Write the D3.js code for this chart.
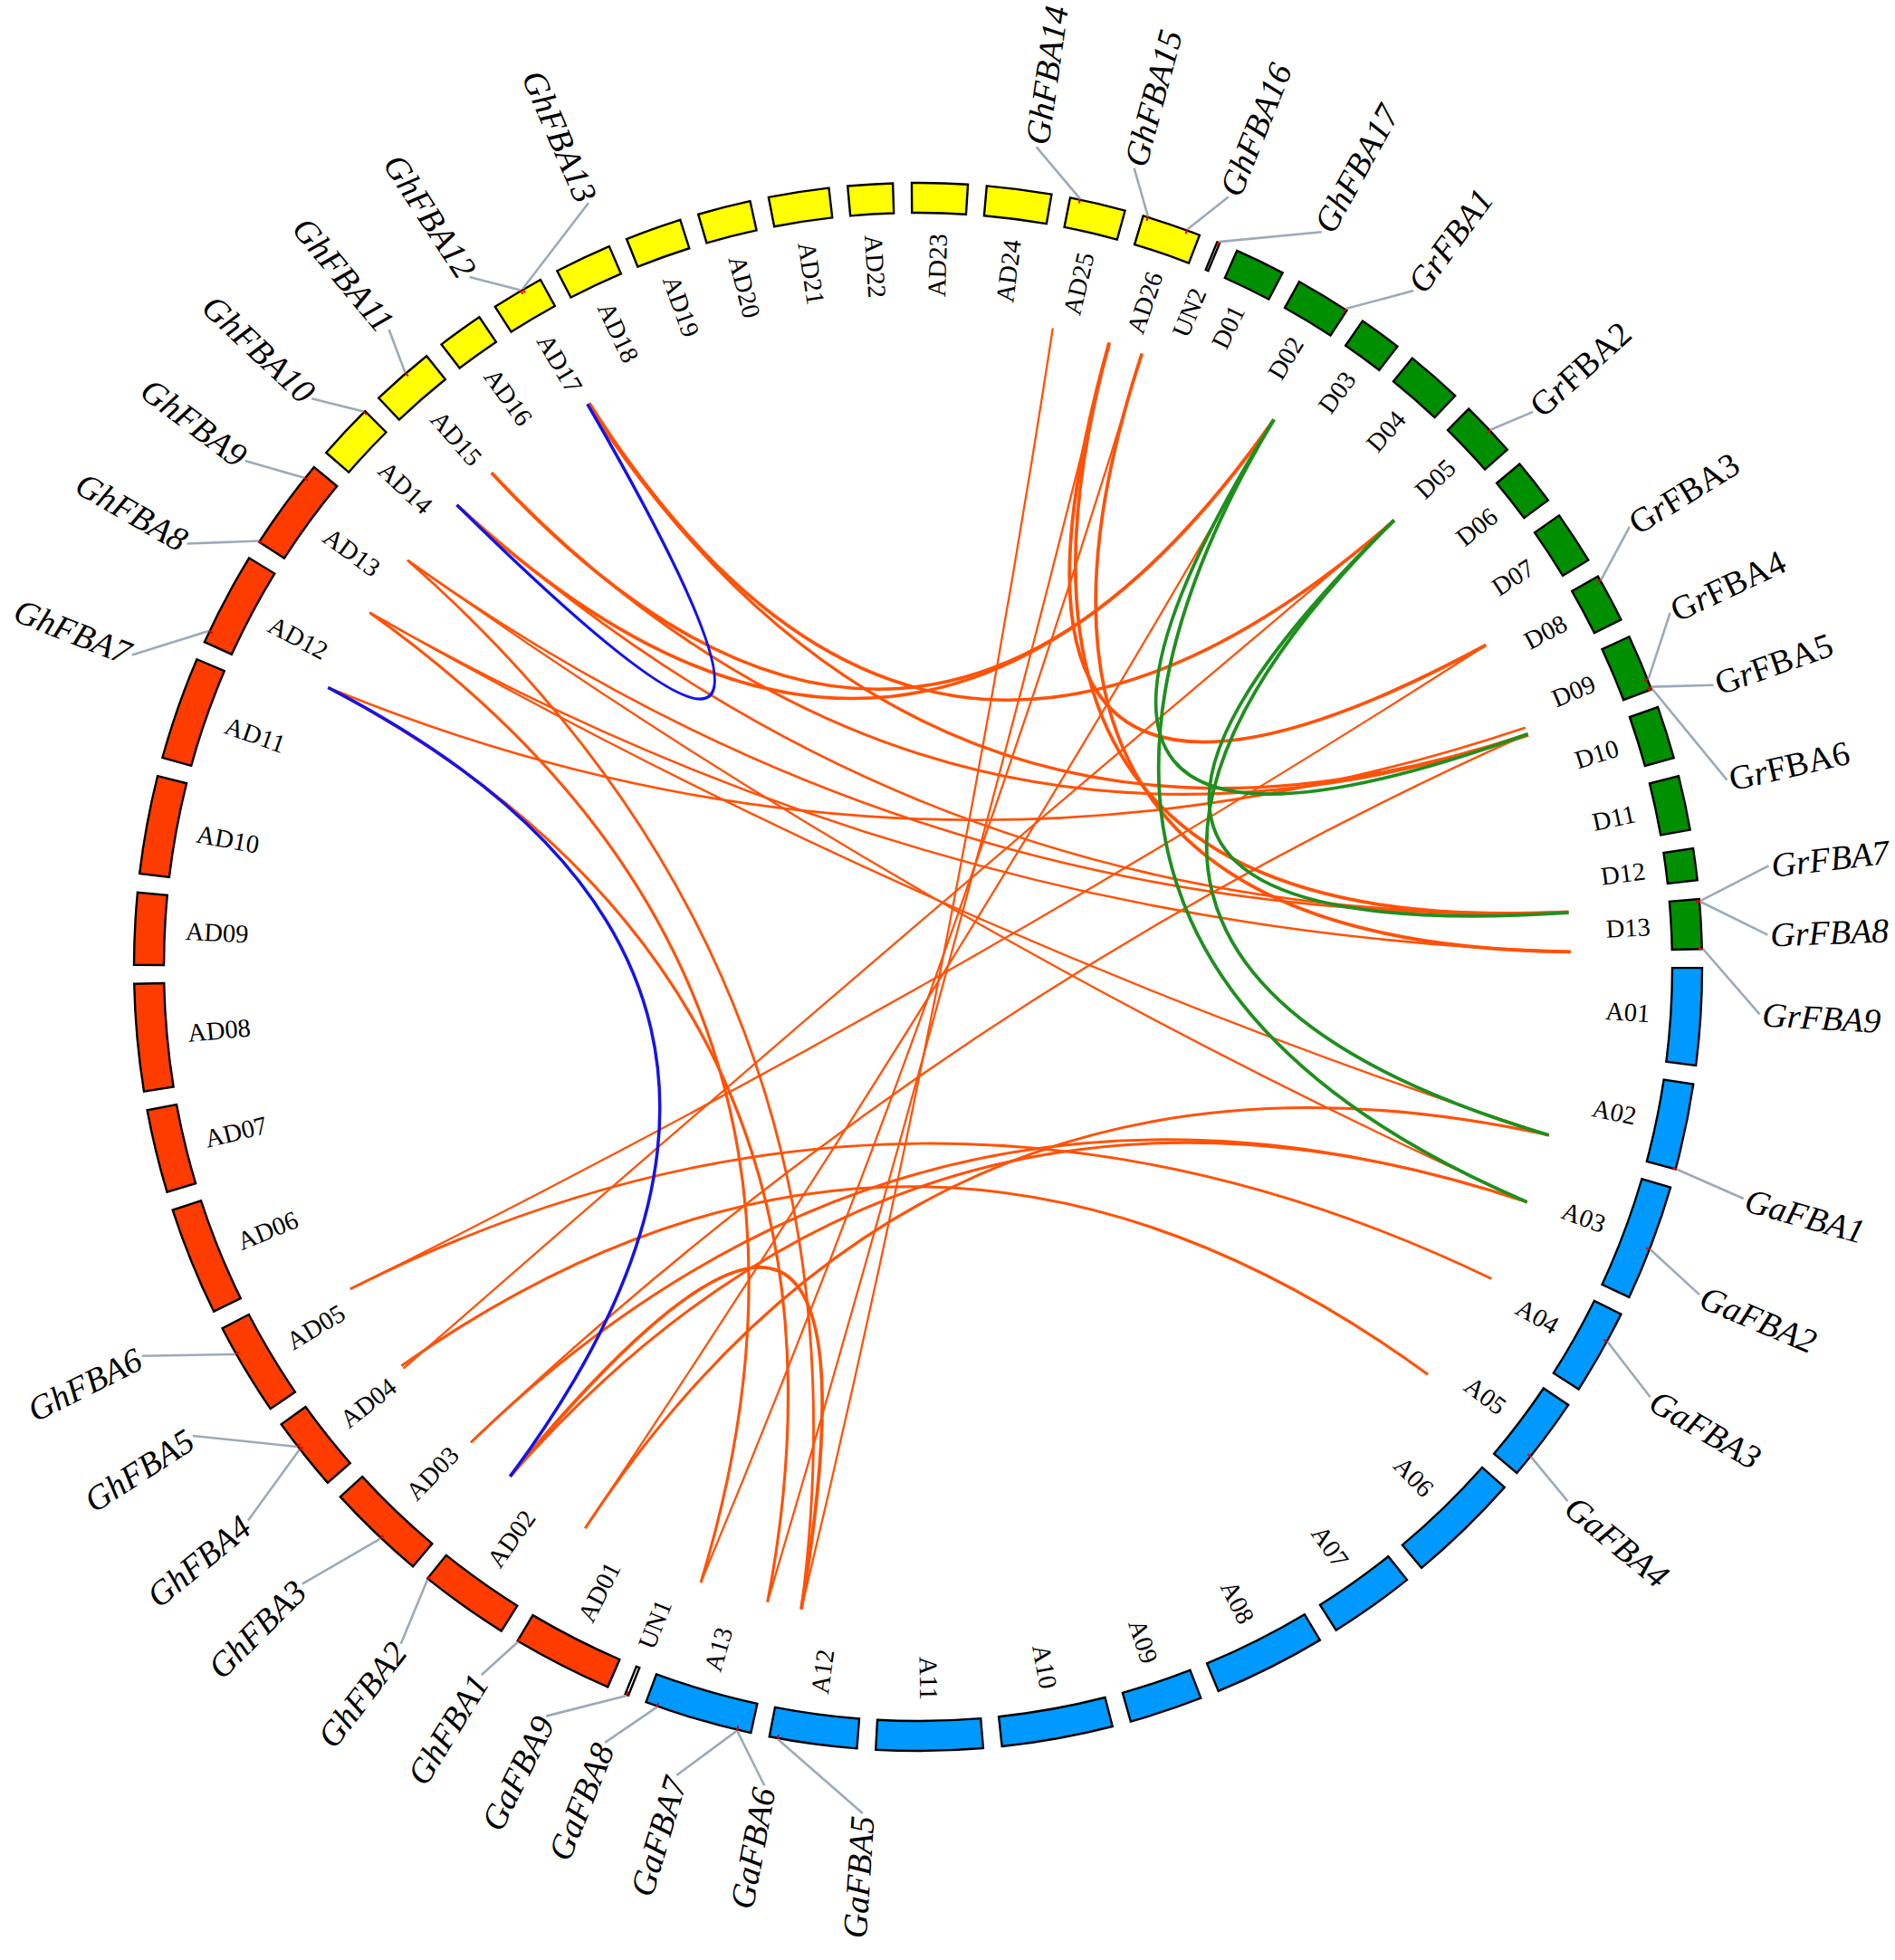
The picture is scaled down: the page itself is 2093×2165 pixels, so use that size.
<!DOCTYPE html>
<html><head><meta charset="utf-8">
<script src="https://cdn.jsdelivr.net/npm/d3@7"></script>
<style>html,body{margin:0;padding:0;background:#fff}</style>
</head><body>
<svg id="chart" width="2093" height="2165"></svg>
<script>
// ---------------- DATA ----------------
const chromNames = ["D01","D02","D03","D04","D05","D06","D07","D08","D09","D10","D11","D12","D13",
  "A01","A02","A03","A04","A05","A06","A07","A08","A09","A10","A11","A12","A13","UN1",
  "AD01","AD02","AD03","AD04","AD05","AD06","AD07","AD08","AD09","AD10","AD11","AD12","AD13",
  "AD14","AD15","AD16","AD17","AD18","AD19","AD20","AD21","AD22","AD23","AD24","AD25","AD26","UN2"];
const chromLengths = [37.1,40.6,31.6,41.7,41.1,33.6,39.0,35.9,41.8,38.9,40.1,23.4,36.7,
  71.5,63.5,85.8,63.0,62.4,84.6,63.6,83.1,54.1,82.1,78.6,64.6,79.9,2.5,
  74.1,66.3,73.6,54.6,68.6,80.1,61.6,79.1,53.1,72.6,76.3,69.6,67.9,
  41.6,46.6,34.1,38.6,42.1,41.6,39.1,44.6,33.1,41.1,47.8,41.2,43.6,2.0];

const geneNames = ["GhFBA1","GhFBA2","GhFBA3","GhFBA4","GhFBA5","GhFBA6","GhFBA7","GhFBA8","GhFBA9",
  "GhFBA10","GhFBA11","GhFBA12","GhFBA13","GhFBA14","GhFBA15","GhFBA16","GhFBA17",
  "GrFBA1","GrFBA2","GrFBA3","GrFBA4","GrFBA5","GrFBA6","GrFBA7","GrFBA8","GrFBA9",
  "GaFBA1","GaFBA2","GaFBA3","GaFBA4","GaFBA5","GaFBA6","GaFBA7","GaFBA8","GaFBA9"];
const geneChroms = ["AD01","AD02","AD03","AD04","AD04","AD05","AD12","AD13","AD13",
  "AD14","AD15","AD17","AD17","AD25","AD26","AD26","UN2",
  "D02","D05","D08","D09","D09","D09","D13","D13","D13",
  "A02","A03","A04","A05","A12","A13","A13","A13","UN1"];
const genePositions = [73.5,65.8,31.3,31.8,34.7,47.4,8.6,0.5,57.3,
  40.6,26.8,22.2,24.1,7.3,3.5,33.7,1.0,
  39.4,22.1,3.4,34.0,40.0,41.5,1.5,2.1,36.5,
  63.3,47.8,22.5,46.7,58.3,10.2,10.2,71.2,1.2];

const linkPairs = [
  ["GhFBA10","GhFBA12"],["GhFBA7","GhFBA2"],
  ["GrFBA1","GrFBA5"],["GrFBA1","GaFBA2"],["GrFBA2","GaFBA1"],["GrFBA2","GrFBA8"],
  ["GhFBA14","GaFBA5"],["GhFBA16","GaFBA8"],["GhFBA15","GrFBA3"],["GhFBA15","GrFBA7"],
  ["GhFBA16","GrFBA9"],["GhFBA15","GaFBA7"],["GhFBA7","GaFBA6"],["GhFBA7","GrFBA4"],
  ["GhFBA6","GrFBA3"],["GhFBA6","GaFBA3"],["GhFBA4","GrFBA2"],["GhFBA5","GaFBA4"],
  ["GhFBA3","GrFBA5"],["GhFBA3","GaFBA2"],["GhFBA2","GaFBA5"],["GhFBA2","GaFBA2"],
  ["GhFBA1","GrFBA1"],["GhFBA1","GaFBA1"],["GhFBA8","GaFBA1"],["GhFBA8","GrFBA9"],
  ["GhFBA8","GaFBA8"],["GhFBA9","GaFBA5"],
  ["GhFBA9","GaFBA2"],["GhFBA9","GrFBA8"],["GhFBA10","GrFBA1"],["GhFBA10","GrFBA7"],
  ["GhFBA11","GrFBA1"],["GhFBA11","GrFBA6"],["GhFBA12","GrFBA5"],["GhFBA13","GrFBA2"]
];

// ---------------- LAYOUT (text placement only) ----------------
const labelShift = [1.0,-1.3,1.7,-1.6,4.8,2.95,-3.7,-2.8,-1.6,
  -1.9,1.1,-2.6,6.9,-3.7,-1.9,1.9,6.25,
  3.2,1.1,-2.2,-3.7,1.4,7.75,-1.95,2.6,4.55,
  0.75,1.65,1.9,0.8,-6.56,-2.7,3.3,2.55,4.6];
const labelRadius = [919,941,963,960,954,959,934,933,930,
  918,915,909,919,915,914,917,926,
  926,915,924,918,932,917,946,939,931,
  947,936,938,929,937,920,932,924,924];

const cx = 1014, cy = 1068;
const R_OUT = 866, R_IN = 833, R_CLABEL = 810, R_LINK = 721;
const START_DEG = 24.0, GAP_DEG = 1.379;
const SERIF = "'Liberation Serif','Times New Roman',Times,serif";

const svg = d3.select("#chart");
svg.append("rect").attr("width",2093).attr("height",2165).attr("fill","#fff");
const g = svg.append("g").attr("transform",`translate(${cx},${cy})`);

const rad = d => d*Math.PI/180;
const norm = a => ((a%360)+360)%360;
const polar = (r,deg) => [r*Math.sin(rad(deg)), -r*Math.cos(rad(deg))];

const total = d3.sum(chromLengths);
const degPerUnit = (360 - chromNames.length*GAP_DEG)/total;
let cur = START_DEG;
const chroms = chromNames.map((name,i)=>{
  const s = cur, e = cur + chromLengths[i]*degPerUnit;
  cur = e + GAP_DEG;
  return {name, start:s, end:e, mid:norm((s+e)/2),
    scale: d3.scaleLinear().domain([0,chromLengths[i]]).range([s,e])};
});
const chromByName = Object.fromEntries(chroms.map(c=>[c.name,c]));

function chromColor(name){
  if (name.startsWith("UN")) return "#ffffff";
  if (name.startsWith("AD")) return (+name.slice(2) <= 13) ? "#ff3c00" : "#ffff00";
  if (name.startsWith("D")) return "#008f00";
  return "#0099ff";
}

// ---- genes
const genes = geneNames.map((n,i)=>{
  const c = chromByName[geneChroms[i]];
  const ang = c.scale(genePositions[i]);
  return {name:n, ang, labAng: norm(ang + labelShift[i]), labR: labelRadius[i]};
});
const geneByName = Object.fromEntries(genes.map(d=>[d.name,d]));

// ---- links (drawn first, beneath everything)
function species(n){ return n.slice(0,2); }
const COLORS = {ghgh:"#1414e6", gr:"#1f8f1f", other:"#ff5208"};
function linkKind(a,b){
  const s1=species(a), s2=species(b);
  if (s1==="Gh" && s2==="Gh") return "ghgh";
  if (s1!=="Gh" && s2!=="Gh") return "gr";
  return "other";
}
const links = linkPairs.map(([a,b])=>{
  const A = geneByName[a], B = geneByName[b];
  const d = norm(B.ang - A.ang);
  let bis, delta;
  if (d<=180){ bis = A.ang + d/2; delta=d; } else { bis = B.ang + (360-d)/2; delta=360-d; }
  return {a:A, b:B, bis, delta, kind: linkKind(a,b)};
});
const order = {other:0, gr:1, ghgh:2};
links.sort((x,y)=>order[x.kind]-order[y.kind]);
const widthScale = d3.scaleLinear().domain([60,115,165]).range([3.9,2.9,2.3]).clamp(true);
g.selectAll("path.link").data(links).join("path")
  .attr("class","link")
  .attr("d", d=>{
    const p = d3.path();
    const p0 = polar(R_LINK,d.a.ang), p2 = polar(R_LINK,d.b.ang), c = polar(40,d.bis);
    p.moveTo(p0[0],p0[1]); p.quadraticCurveTo(c[0],c[1],p2[0],p2[1]);
    return p.toString();
  })
  .attr("fill","none")
  .attr("stroke", d=>COLORS[d.kind])
  .attr("stroke-width", d=> d.kind==="other" ? widthScale(d.delta) : (d.kind==="gr" ? 3.8 : 3.5));

// ---- ideogram blocks
const arc = d3.arc().innerRadius(R_IN).outerRadius(R_OUT);
g.selectAll("path.chr").data(chroms).join("path")
  .attr("class","chr")
  .attr("d", d=>arc({startAngle:rad(d.start), endAngle:rad(d.end)}))
  .attr("fill", d=>chromColor(d.name))
  .attr("stroke","#000").attr("stroke-width",2.4).attr("stroke-linejoin","miter");

// ---- chromosome labels (radial)
function radialTransform(r, deg){
  return deg < 180 ? `rotate(${deg-90}) translate(${r},0)` : `rotate(${deg-90}) translate(${r},0) rotate(180)`;
}
g.selectAll("text.clab").data(chroms).join("text")
  .attr("class","clab")
  .attr("transform", d=>radialTransform(R_CLABEL, d.mid))
  .attr("text-anchor", d=> d.mid<180 ? "end" : "start")
  .attr("dominant-baseline","central")
  .attr("font-family",SERIF).attr("font-size",28.5).attr("fill","#000")
  .text(d=>d.name);

// leader lines
g.selectAll("line.lead").data(genes).join("line")
  .attr("class","lead")
  .attr("x1", d=>polar(R_OUT+1,d.ang)[0]).attr("y1", d=>polar(R_OUT+1,d.ang)[1])
  .attr("x2", d=>polar(d.labR,d.labAng)[0]).attr("y2", d=>polar(d.labR,d.labAng)[1])
  .attr("stroke","#9caab9").attr("stroke-width",2.6);
// small red gene ticks
g.selectAll("line.tick").data(genes).join("line")
  .attr("class","tick")
  .attr("x1", d=>polar(R_OUT-4,d.ang)[0]).attr("y1", d=>polar(R_OUT-4,d.ang)[1])
  .attr("x2", d=>polar(R_OUT+1,d.ang)[0]).attr("y2", d=>polar(R_OUT+1,d.ang)[1])
  .attr("stroke","#e00000").attr("stroke-width",2);

// gene labels
const mixedStyle = new Set(["GrFBA2","GrFBA3","GrFBA4","GrFBA5","GrFBA6"]);
const gl = g.selectAll("text.glab").data(genes).join("text")
  .attr("class","glab")
  .attr("transform", d=>radialTransform(d.labR+3, d.labAng))
  .attr("text-anchor", d=> d.labAng < 180 ? "start" : "end")
  .attr("dominant-baseline","central")
  .attr("font-family",SERIF).attr("font-size",38).attr("fill","#000");
gl.each(function(d){
  const t = d3.select(this);
  if (mixedStyle.has(d.name)){
    t.append("tspan").text("G");
    t.append("tspan").attr("font-style","italic").text("r");
    t.append("tspan").text(d.name.slice(2));
  } else {
    t.attr("font-style","italic").text(d.name);
  }
});
</script>
</body></html>
